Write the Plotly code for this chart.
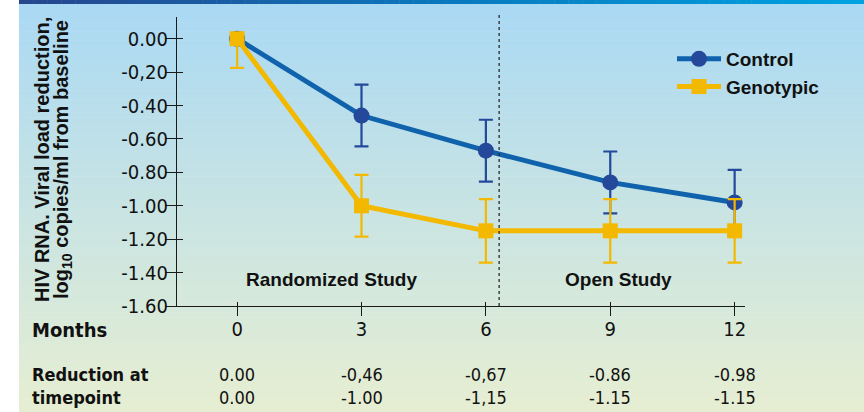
import plotly.graph_objects as go

# ---- data -------------------------------------------------------------
months = [0, 3, 6, 9, 12]
month_labels = ["0", "3", "6", "9", "12"]

# reduction at each timepoint, as printed under the chart
control_text = ["0.00", "-0,46", "-0,67", "-0.86", "-0.98"]
genotypic_text = ["0.00", "-1.00", "-1,15", "-1.15", "-1.15"]
control = [float(s.replace(",", ".")) for s in control_text]
genotypic = [float(s.replace(",", ".")) for s in genotypic_text]

# error bar half-widths (log10 copies/ml)
control_err = [0.0, 0.185, 0.185, 0.185, 0.195]
genotypic_err_plus = [0.0, 0.185, 0.19, 0.19, 0.19]
genotypic_err_minus = [0.175, 0.185, 0.19, 0.19, 0.19]

y_ticks = [0.0, -0.2, -0.4, -0.6, -0.8, -1.0, -1.2, -1.4, -1.6]
y_tick_labels = ["0.00", "-0,20", "-0.40", "-0.60", "-0.80", "-1.00", "-1.20", "-1.40", "-1.60"]

phase_split = 6.32
phase_labels = [("Randomized Study", 2.27), ("Open Study", 9.19)]

# ---- styling ----------------------------------------------------------
W, H = 864, 412
ML, MR, MT, MB = 177, 119, 17, 106
BLUE_LINE = "#0f62ab"
BLUE_MARK = "#24489a"
YELLOW = "#f3b800"
NARROW = "Liberation Sans Narrow, DejaVu Sans Condensed, Arial Narrow, sans-serif"
BOLD = "Liberation Sans, Arial, sans-serif"
TXT = "#111111"

pw = W - ML - MR
ph = H - MT - MB


def px_x(p):
    """pixel column -> paper x"""
    return (p - ML) / pw


def px_y(p):
    """pixel row (from top) -> paper y"""
    return (H - MB - p) / ph


def mix(c1, c2, t):
    a = [int(c1[i:i + 2], 16) for i in (1, 3, 5)]
    b = [int(c2[i:i + 2], 16) for i in (1, 3, 5)]
    return "#" + "".join(f"{round(a[k] + (b[k] - a[k]) * t):02x}" for k in range(3))


fig = go.Figure()

fig.add_trace(go.Scatter(
    x=months, y=control, name="Control", mode="lines+markers",
    line=dict(color=BLUE_LINE, width=5),
    marker=dict(symbol="circle", size=16, color=BLUE_MARK),
    error_y=dict(type="data", array=control_err, symmetric=True,
                 color=BLUE_MARK, thickness=2.2, width=7),
))
fig.add_trace(go.Scatter(
    x=months, y=genotypic, name="Genotypic", mode="lines+markers",
    line=dict(color=YELLOW, width=5),
    marker=dict(symbol="square", size=15, color=YELLOW),
    error_y=dict(type="data", array=genotypic_err_plus, arrayminus=genotypic_err_minus,
                 symmetric=False, color=YELLOW, thickness=2.2, width=7),
))
# companion trace that carries the inner half of the crossing tick marks
fig.add_trace(go.Scatter(
    x=months, y=control, xaxis="x2", yaxis="y2", mode="markers",
    marker=dict(opacity=0), showlegend=False, hoverinfo="skip",
))

shapes = []
# background: white margin strip on the left, vertical blue-to-green wash
n = 90
top_c, bot_c = "#aad9f4", "#e6eed2"
for i in range(n):
    p0 = 4 + (H - 4) * i / n
    p1 = 4 + (H - 4) * (i + 1) / n
    shapes.append(dict(type="rect", xref="paper", yref="paper",
                       x0=px_x(19), x1=px_x(W), y0=px_y(p1 + 0.5), y1=px_y(p0),
                       line=dict(width=0), fillcolor=mix(top_c, bot_c, i / (n - 1)),
                       layer="below"))
# top stripe: dark blue to bright blue
m = 60
for i in range(m):
    q0 = 19 + (W - 19) * i / m
    q1 = 19 + (W - 19) * (i + 1) / m
    t = i / (m - 1)
    c = mix("#26468e", "#0a78bd", t * 2) if t < 0.5 else mix("#0a78bd", "#00a2e2", (t - 0.5) * 2)
    shapes.append(dict(type="rect", xref="paper", yref="paper",
                       x0=px_x(q0), x1=px_x(q1 + 0.5), y0=px_y(4), y1=px_y(0),
                       line=dict(width=0), fillcolor=c, layer="below"))
# study phase divider
shapes.append(dict(type="line", xref="x", yref="paper", x0=phase_split, x1=phase_split,
                   y0=0, y1=px_y(13), line=dict(color="#2a2a2a", width=1.3, dash="3px,3px")))

annotations = []
title_font = dict(family=BOLD, size=20, color=TXT, weight="bold")
for text, xp in [("HIV RNA. Viral load reduction,", 42),
                 ("log<sub>10</sub> copies/ml from baseline", 62)]:
    annotations.append(dict(text=text, xref="paper", yref="paper", x=px_x(xp), y=px_y(160),
                            textangle=-90, showarrow=False, xanchor="center", yanchor="middle",
                            font=title_font))
for label, xm in phase_labels:
    annotations.append(dict(text=label, x=xm, y=px_y(279), xref="x", yref="paper",
                            showarrow=False, xanchor="center", yanchor="middle",
                            font=dict(family=BOLD, size=19, color=TXT, weight="bold")))
annotations.append(dict(text="Months", xref="paper", yref="paper", x=px_x(30), y=px_y(330),
                        xanchor="left", yanchor="middle", showarrow=False,
                        font=dict(family=NARROW, size=20, color=TXT, weight="bold")))
# reduction table: control row, then genotypic row
ROWS = (375, 397)
row_font_b = dict(family=NARROW, size=18, color=TXT, weight="bold")
for text, yp in zip(["Reduction at", "timepoint"], ROWS):
    annotations.append(dict(text=text, xref="paper", yref="paper", x=px_x(30), y=px_y(yp),
                            xanchor="left", yanchor="middle", showarrow=False, font=row_font_b))
row_font = dict(family=NARROW, size=18, color=TXT)
for xm, a, b in zip(months, control_text, genotypic_text):
    for text, yp in zip([a, b], ROWS):
        annotations.append(dict(text=text, xref="x", yref="paper", x=xm, y=px_y(yp),
                                xanchor="center", yanchor="middle", showarrow=False,
                                font=row_font))

x_range = [-1.45, 12.25]
y_range = [-1.6, 0.13]

fig.update_layout(
    width=W, height=H,
    margin=dict(l=ML, r=MR, t=MT, b=MB, pad=0),
    paper_bgcolor="white", plot_bgcolor="rgba(0,0,0,0)",
    shapes=shapes, annotations=annotations,
    showlegend=True,
    legend=dict(x=px_x(672), y=px_y(40), xanchor="left", yanchor="top",
                bgcolor="rgba(0,0,0,0)", tracegroupgap=0, itemwidth=44,
                font=dict(family=BOLD, size=19, color=TXT, weight="bold")),
    xaxis=dict(range=x_range, tickvals=months, ticktext=month_labels,
               showgrid=False, zeroline=False, showline=True, linecolor="#1a1a1a",
               linewidth=1.3, ticks="outside", ticklen=9, tickwidth=1.3, tickcolor="#1a1a1a",
               ticklabelstandoff=-4,
               tickfont=dict(family=NARROW, size=20, color=TXT)),
    yaxis=dict(range=y_range, tickvals=y_ticks, ticktext=y_tick_labels,
               showgrid=False, zeroline=False, showline=True, linecolor="#1a1a1a",
               linewidth=1.3, ticks="outside", ticklen=11, tickwidth=1.3, tickcolor="#1a1a1a",
               ticklabelstandoff=-7,
               tickfont=dict(family=NARROW, size=20, color=TXT)),
    xaxis2=dict(overlaying="x", matches="x", anchor="y", range=x_range, tickvals=months,
                showticklabels=False, showgrid=False, zeroline=False, showline=False,
                ticks="inside", ticklen=4, tickwidth=1.3, tickcolor="#1a1a1a"),
    yaxis2=dict(overlaying="y", matches="y", anchor="x", range=y_range, tickvals=y_ticks,
                showticklabels=False, showgrid=False, zeroline=False, showline=False,
                ticks="inside", ticklen=6, tickwidth=1.3, tickcolor="#1a1a1a"),
)

fig.write_html("out.html")
